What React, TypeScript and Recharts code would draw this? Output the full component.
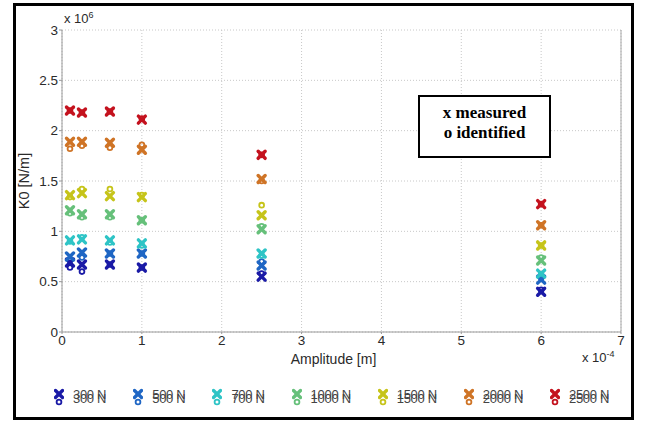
import { ScatterChart, Scatter, XAxis, YAxis, CartesianGrid, Label, ReferenceLine } from "recharts";

// amplitude in units of 1e-4 m, stiffness in units of 1e6 N/m
const amplitudes = [0.1, 0.25, 0.6, 1, 2.5, 6];
const forceLabels = ["300 N", "500 N", "700 N", "1000 N", "1500 N", "2000 N", "2500 N"];
const forceColors = ["#1a1aa6", "#1f66c4", "#2ec4c6", "#66c07a", "#c6c41a", "#cf7426", "#c4121e"];

const measured300 = [0.69, 0.67, 0.67, 0.64, 0.55, 0.4];
const measured500 = [0.75, 0.79, 0.78, 0.78, 0.66, 0.52];
const measured700 = [0.91, 0.92, 0.91, 0.88, 0.78, 0.58];
const measured1000 = [1.21, 1.17, 1.17, 1.11, 1.02, 0.71];
const measured1500 = [1.36, 1.38, 1.35, 1.34, 1.16, 0.86];
const measured2000 = [1.89, 1.89, 1.88, 1.81, 1.52, 1.06];
const measured2500 = [2.2, 2.18, 2.19, 2.11, 1.76, 1.27];

const identified300 = [0.64, 0.6, 0.67, 0.64, 0.58, 0.42];
const identified500 = [0.71, 0.74, 0.78, 0.78, 0.7, 0.54];
const identified700 = [0.9, 0.94, 0.89, 0.86, 0.76, 0.57];
const identified1000 = [1.18, 1.14, 1.14, 1.11, 1.05, 0.74];
const identified1500 = [1.34, 1.42, 1.42, 1.36, 1.26, 0.86];
const identified2000 = [1.82, 1.85, 1.83, 1.86, 1.5, 1.06];
const identified2500 = [2.2, 2.18, 2.19, 2.12, 1.76, 1.27];

const xTicks = [0, 1, 2, 3, 4, 5, 6, 7];
const yTicks = [0, 0.5, 1, 1.5, 2, 2.5, 3];

const measuredSets = [measured300, measured500, measured700, measured1000, measured1500, measured2000, measured2500];
const identifiedSets = [identified300, identified500, identified700, identified1000, identified1500, identified2000, identified2500];

const toPoints = (values: number[]) => values.map((y, i) => ({ x: amplitudes[i], y }));

const font = "'Liberation Sans', Arial, sans-serif";
const textColor = "#2a2a2a";

function Cross(props: any) {
  const { cx, cy, fill } = props;
  if (cx == null || cy == null) return null;
  const s = 3.5;
  return (
    <g stroke={fill} strokeWidth={3.4} strokeLinecap="round">
      <line x1={cx - s} y1={cy - s} x2={cx + s} y2={cy + s} />
      <line x1={cx - s} y1={cy + s} x2={cx + s} y2={cy - s} />
    </g>
  );
}

function Ring(props: any) {
  const { cx, cy, fill } = props;
  if (cx == null || cy == null) return null;
  return <circle cx={cx} cy={cy} r={2.4} fill="none" stroke={fill} strokeWidth={1.8} />;
}

function LegendMarker({ color }: { color: string }) {
  return (
    <svg width={10} height={20} style={{ display: "block" }}>
      <Cross cx={5} cy={6} fill={color} />
      <Ring cx={5} cy={14} fill={color} />
    </svg>
  );
}

export default function App() {
  return (
    <div style={{ position: "absolute", left: 0, top: 0, width: 649, height: 421, background: "#fff", fontFamily: font }}>
      <ScatterChart width={649} height={421} margin={{ top: 30, right: 28, bottom: 59, left: 14 }}>
        <CartesianGrid stroke="#c8c8c8" strokeDasharray="1 2" />
        <ReferenceLine x={7} stroke="#a8a8a8" />
        <XAxis
          type="number"
          dataKey="x"
          domain={[0, 7]}
          ticks={xTicks}
          height={30}
          axisLine={{ stroke: "#9a9a9a" }}
          tickLine={{ stroke: "#9a9a9a" }}
          tickSize={2}
          tick={{ fill: textColor, fontSize: 13.5, fontFamily: font }}
          tickMargin={1}
        >
          <Label
            value="Amplitude [m]"
            position="insideBottom"
            offset={-2}
            dx={-8}
            fill={textColor}
            fontSize={14}
            fontFamily={font}
          />
        </XAxis>
        <YAxis
          type="number"
          dataKey="y"
          domain={[0, 3]}
          ticks={yTicks}
          width={48}
          axisLine={{ stroke: "#9a9a9a" }}
          tickLine={{ stroke: "#9a9a9a" }}
          tickSize={3}
          tick={{ fill: textColor, fontSize: 13.5, fontFamily: font }}
          tickMargin={1}
        >
          <Label
            value="K0 [N/m]"
            angle={-90}
            position="insideLeft"
            offset={10}
            textAnchor="middle"
            fill={textColor}
            fontSize={14.5}
            fontFamily={font}
          />
        </YAxis>
        {forceLabels.map((name, i) => (
          <Scatter
            key={`id-${name}`}
            name={`${name} identified`}
            data={toPoints(identifiedSets[i])}
            fill={forceColors[i]}
            shape={<Ring />}
            isAnimationActive={false}
          />
        ))}
        {forceLabels.map((name, i) => (
          <Scatter
            key={`ms-${name}`}
            name={`${name} measured`}
            data={toPoints(measuredSets[i])}
            fill={forceColors[i]}
            shape={<Cross />}
            isAnimationActive={false}
          />
        ))}
      </ScatterChart>

      <div style={{ position: "absolute", left: 64, top: 10, fontSize: 13, color: textColor }}>
        x 10<sup style={{ fontSize: 9 }}>6</sup>
      </div>
      <div style={{ position: "absolute", left: 582, top: 349, fontSize: 13, color: textColor }}>
        x 10<sup style={{ fontSize: 9 }}>-4</sup>
      </div>

      <div
        style={{
          position: "absolute",
          left: 418,
          top: 95,
          width: 133,
          height: 63,
          border: "2px solid #000",
          background: "#fff",
          fontFamily: "'Liberation Serif', 'Times New Roman', serif",
          fontWeight: "bold",
          fontSize: 17,
          lineHeight: "20px",
          padding: "6px 0 0 0",
          boxSizing: "border-box",
          textAlign: "center",
        }}
      >
        <div>x measured</div>
        <div>o identified</div>
      </div>

      <div style={{ position: "absolute", left: 54, top: 388, display: "flex", gap: 27, alignItems: "center" }}>
        {forceLabels.map((name, i) => (
          <div key={name} style={{ display: "flex", alignItems: "center", gap: 9 }}>
            <LegendMarker color={forceColors[i]} />
            <div style={{ position: "relative", fontSize: 13, color: "#444", height: 20, lineHeight: "14px", letterSpacing: -0.3 }}>
              <span style={{ display: "block" }}>{name}</span>
              <span style={{ position: "absolute", left: 0, top: 4 }}>{name}</span>
            </div>
          </div>
        ))}
      </div>

      <div
        style={{
          position: "absolute",
          left: 13,
          top: 3,
          width: 621,
          height: 417,
          border: "3px solid #000",
          boxSizing: "border-box",
          pointerEvents: "none",
        }}
      />
    </div>
  );
}
